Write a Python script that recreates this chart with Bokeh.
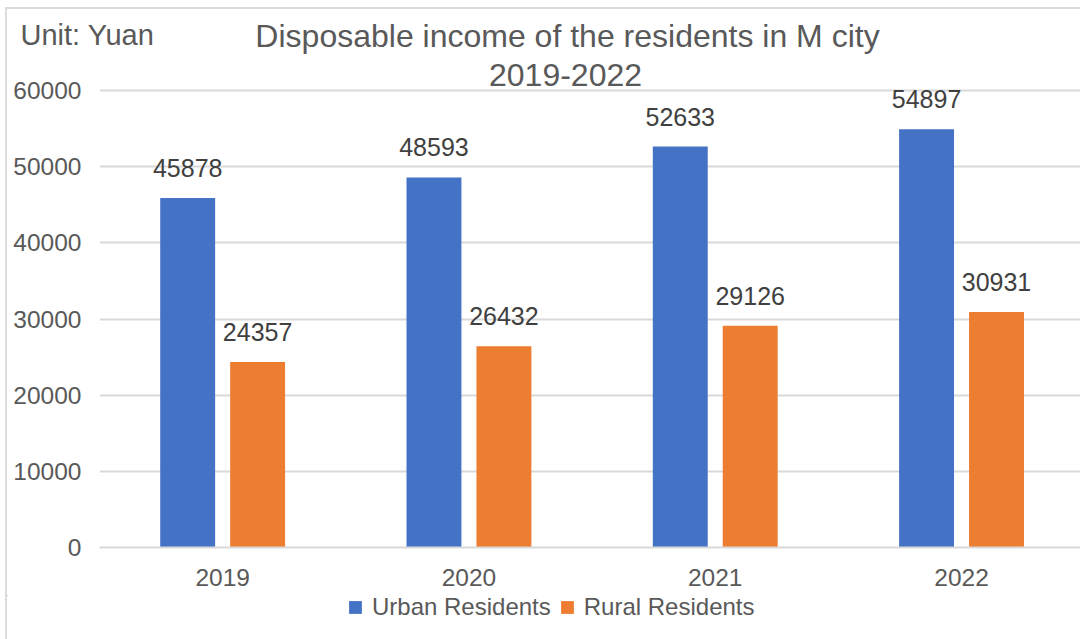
from bokeh.plotting import figure
from bokeh.layouts import column
from bokeh.models import (FixedTicker, Range1d, Legend, LegendItem, Label,
                          ColumnDataSource, NumeralTickFormatter)
from bokeh.embed import file_html
from bokeh.resources import INLINE
from bokeh.core.properties import value

years = ["2019", "2020", "2021", "2022"]
urban = [45878, 48593, 52633, 54897]
rural = [24357, 26432, 29126, 30931]
y_ticks = [0, 10000, 20000, 30000, 40000, 50000, 60000]
series_names = ["Urban Residents", "Rural Residents"]
title_line1 = "Disposable income of the residents in M city"
title_line2 = "2019-2022"
unit_text = "Unit: Yuan"

FONT = "Liberation Sans"
GRAY = "#595959"
BLUE = "#4472C4"
ORANGE = "#ED7D31"
W = 1073          # canvas width (page x 7..1080)
HDR_H = 48        # page y 9..57
MAIN_H = 538      # page y 57..595
FTR_H = 44        # page y 595..639
BOTTOM = 48       # x-axis panel height
LEFT = 92         # y-axis panel width

def no_align(fig):
    try:
        fig.frame_align = False
    except Exception:
        pass

# ---------- header: unit + first title line ----------
hdr = figure(width=W, height=HDR_H, output_backend="svg", toolbar_location=None,
             x_axis_type=None, y_axis_type=None, x_range=Range1d(0, 1), y_range=Range1d(0, 1),
             min_border=0)
no_align(hdr)
hdr.outline_line_color = None
hdr.xgrid.visible = False
hdr.ygrid.visible = False
hdr.add_layout(Label(x=13, y=23, x_units="screen", y_units="screen", text=unit_text,
                     text_font=FONT, text_font_size="29px", text_color=GRAY,
                     text_baseline="middle", text_align="left"))
hdr.add_layout(Label(x=560, y=22, x_units="screen", y_units="screen", text=title_line1,
                     text_font=FONT, text_font_size="32px", text_color=GRAY,
                     text_baseline="middle", text_align="center"))

# ---------- main chart ----------
idx = list(range(len(years)))
off = 0.142
bw = 0.223

src_u = ColumnDataSource(dict(x=[i - off for i in idx], y=urban, t=[str(v) for v in urban]))
src_r = ColumnDataSource(dict(x=[i + off for i in idx], y=rural, t=[str(v) for v in rural]))

frame_h = MAIN_H - BOTTOM                 # frame spans page y 57..547
grid_h = 457                              # pixels from 0 to the top tick
y_end = y_ticks[-1] * frame_h / grid_h

p = figure(width=W, height=MAIN_H, output_backend="svg", toolbar_location=None,
           x_range=Range1d(-0.5, 3.483), y_range=Range1d(0, y_end),
           min_border_left=LEFT, min_border_right=0, min_border_top=0, min_border_bottom=BOTTOM)
p.outline_line_color = None

p.vbar(x="x", top="y", width=bw, source=src_u, color=BLUE, line_color=None)
p.vbar(x="x", top="y", width=bw, source=src_r, color=ORANGE, line_color=None)

for s in (src_u, src_r):
    p.text(x="x", y="y", text="t", source=s, text_align="center", text_baseline="bottom",
           y_offset=-21, text_font=value(FONT), text_font_size="25px", text_color="#404040")

p.add_layout(Label(x=466, y=473, x_units="screen", y_units="screen", text=title_line2,
                   text_font=FONT, text_font_size="32px", text_color=GRAY,
                   text_baseline="middle", text_align="center"))

p.xaxis.ticker = FixedTicker(ticks=idx)
p.xaxis.major_label_overrides = {i: y for i, y in zip(idx, years)}
p.xaxis.axis_line_color = "#d9d9d9"
p.xaxis.axis_line_width = 2
p.xaxis.major_tick_line_color = None
p.xaxis.minor_tick_line_color = None
p.xaxis.major_label_standoff = 15
p.xaxis.major_label_text_font = FONT
p.xaxis.major_label_text_font_size = "24.5px"
p.xaxis.major_label_text_color = GRAY

p.yaxis.ticker = FixedTicker(ticks=y_ticks)
p.yaxis.formatter = NumeralTickFormatter(format="0")
p.yaxis.axis_line_color = None
p.yaxis.major_tick_line_color = None
p.yaxis.minor_tick_line_color = None
p.yaxis.major_label_standoff = 12
p.yaxis.major_label_text_font = FONT
p.yaxis.major_label_text_font_size = "24.5px"
p.yaxis.major_label_text_color = GRAY

p.xgrid.grid_line_color = None
p.ygrid.grid_line_color = "#d9d9d9"
p.ygrid.grid_line_width = 2

# ---------- footer: legend ----------
ftr = figure(width=W, height=FTR_H, output_backend="svg", toolbar_location=None,
             x_axis_type=None, y_axis_type=None, x_range=Range1d(100, 101),
             y_range=Range1d(-2000000, -1000000), min_border=0)
no_align(ftr)
ftr.outline_line_color = None
ftr.xgrid.visible = False
ftr.ygrid.visible = False
# legend swatches take their colour from these (out-of-view) copies of the series
lu = ftr.vbar(x=idx, top=urban, width=0.1, color=BLUE, line_color=None)
lr = ftr.vbar(x=idx, top=rural, width=0.1, color=ORANGE, line_color=None)
legend = Legend(items=[LegendItem(label=series_names[0], renderers=[lu]),
                       LegendItem(label=series_names[1], renderers=[lr])],
                orientation="horizontal", location=(340, 18),
                label_text_font=FONT, label_text_font_size="24px", label_text_color=GRAY,
                glyph_width=16, glyph_height=16, spacing=8, label_standoff=9,
                border_line_color=None, background_fill_alpha=0, padding=0, margin=0)
ftr.add_layout(legend, "center")

layout = column(hdr, p, ftr, spacing=0, margin=(7, 0, 0, 5))
layout.styles = {"border-left": "2px solid #dcdcdc", "border-top": "2px solid #dcdcdc"}

open("out.html", "w").write(file_html(layout, INLINE))
